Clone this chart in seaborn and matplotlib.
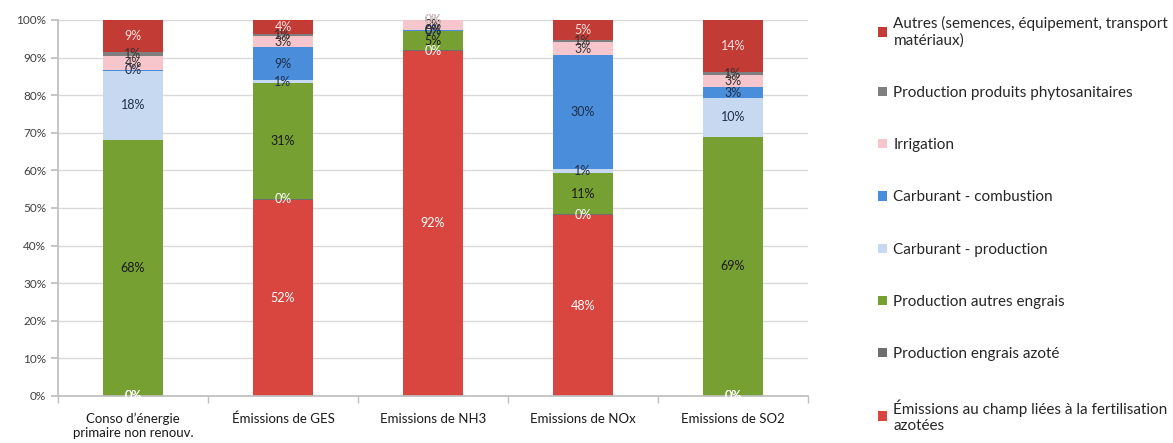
import numpy as np
import pandas as pd
import matplotlib
matplotlib.use("Agg")
import matplotlib.pyplot as plt
import seaborn as sns
from matplotlib.patches import Patch

sns.set_theme(style="white")
plt.rcParams['font.family'] = ['Lato', 'DejaVu Sans']

# categories (x axis)
categories = ["Conso d\u2019\u00e9nergie\nprimaire non renouv.", "\u00c9missions de GES",
              "Emissions de NH3", "Emissions de NOx", "Emissions de SO2"]

# series, bottom of the stack first (values in %)
series_names = [
    "\u00c9missions au champ li\u00e9es \u00e0 la fertilisation\nazot\u00e9es",
    "Production engrais azot\u00e9",
    "Production autres engrais",
    "Carburant - production",
    "Carburant - combustion",
    "Irrigation",
    "Production produits phytosanitaires",
    "Autres (semences, \u00e9quipement, transport\nmat\u00e9riaux)",
]
champ = [0.0, 52.2, 91.8, 48.1, 0.0]
engrais_azote = [0.0, 0.2, 0.1, 0.2, 0.0]
autres_engrais = [68.2, 30.8, 5.1, 11.0, 69.0]
carb_prod = [18.3, 0.8, 0.2, 1.0, 10.3]
carb_comb = [0.2, 8.7, 0.2, 30.4, 2.8]
irrigation = [3.8, 3.0, 2.5, 3.4, 3.2]
phyto = [0.9, 0.6, 0.1, 0.6, 0.8]
autres = [8.6, 3.7, 0.0, 5.3, 13.9]

series_values = [champ, engrais_azote, autres_engrais, carb_prod,
                 carb_comb, irrigation, phyto, autres]
colors = ["#D8463F", "#6E6E6E", "#77A033", "#C6D9F1",
          "#4A8DDA", "#F7C6CC", "#7F7F7F", "#C33B35"]
label_colors = ["white", "white", "#1A1A1A", "#1F2F4A",
                "#1F2F4A", "#333333", "#333333", "#FBE0DE"]

df = pd.DataFrame(series_values, index=series_names, columns=categories).T
cum = df.cumsum(axis=1)

fig = plt.figure(figsize=(11.73, 4.43), dpi=100)
ax = fig.add_axes([58 / 1173, 47 / 443, 750 / 1173, 376 / 443])

# stacked bars: draw cumulative totals from the top series down
for i in range(len(series_names) - 1, -1, -1):
    name = series_names[i]
    sns.barplot(x=cum.index, y=cum[name].values, color=colors[i], width=0.4,
                ax=ax, saturation=1, linewidth=0, zorder=2)

# value labels at segment centres
for i, name in enumerate(series_names):
    bottoms = cum[name].values - df[name].values
    for j, v in enumerate(df[name].values):
        ax.text(j, bottoms[j] + v / 2, "{0:.0f}%".format(v), ha="center",
                va="center", fontsize=9, color=label_colors[i], zorder=5)

ax.set_ylim(0, 100)
ax.set_xlim(-0.5, len(categories) - 0.5)
ax.set_yticks(np.arange(0, 101, 10))
ax.set_yticklabels(["{0}%".format(t) for t in range(0, 101, 10)])
ax.yaxis.grid(True, color="#D9D9D9", linewidth=1, zorder=0)
ax.set_axisbelow(True)
ax.set_xlabel("")
ax.set_ylabel("")
for s in ["top", "right"]:
    ax.spines[s].set_visible(False)
for s in ["left", "bottom"]:
    ax.spines[s].set_color("#BFBFBF")
ax.tick_params(axis="y", which="major", length=5, color="#BFBFBF",
               labelsize=8.5, labelcolor="#404040", direction="out", left=True)
ax.tick_params(axis="x", which="major", length=0, labelsize=9.5,
               labelcolor="#1A1A1A", pad=12)
ax.set_xticks(np.arange(-0.5, len(categories), 1.0), minor=True)
ax.tick_params(axis="x", which="minor", length=5, color="#BFBFBF",
               direction="out", bottom=True)

handles = [Patch(facecolor=colors[i], edgecolor="none") for i in range(len(series_names))]
fig.legend(handles[::-1], series_names[::-1], loc="upper left",
           bbox_to_anchor=(872 / 1173, 1 - 10 / 443), frameon=False,
           fontsize=11, handlelength=0.55, handleheight=0.55, handletextpad=0.45,
           labelspacing=2.5, borderaxespad=0)

fig.savefig("out.png", dpi=100)
